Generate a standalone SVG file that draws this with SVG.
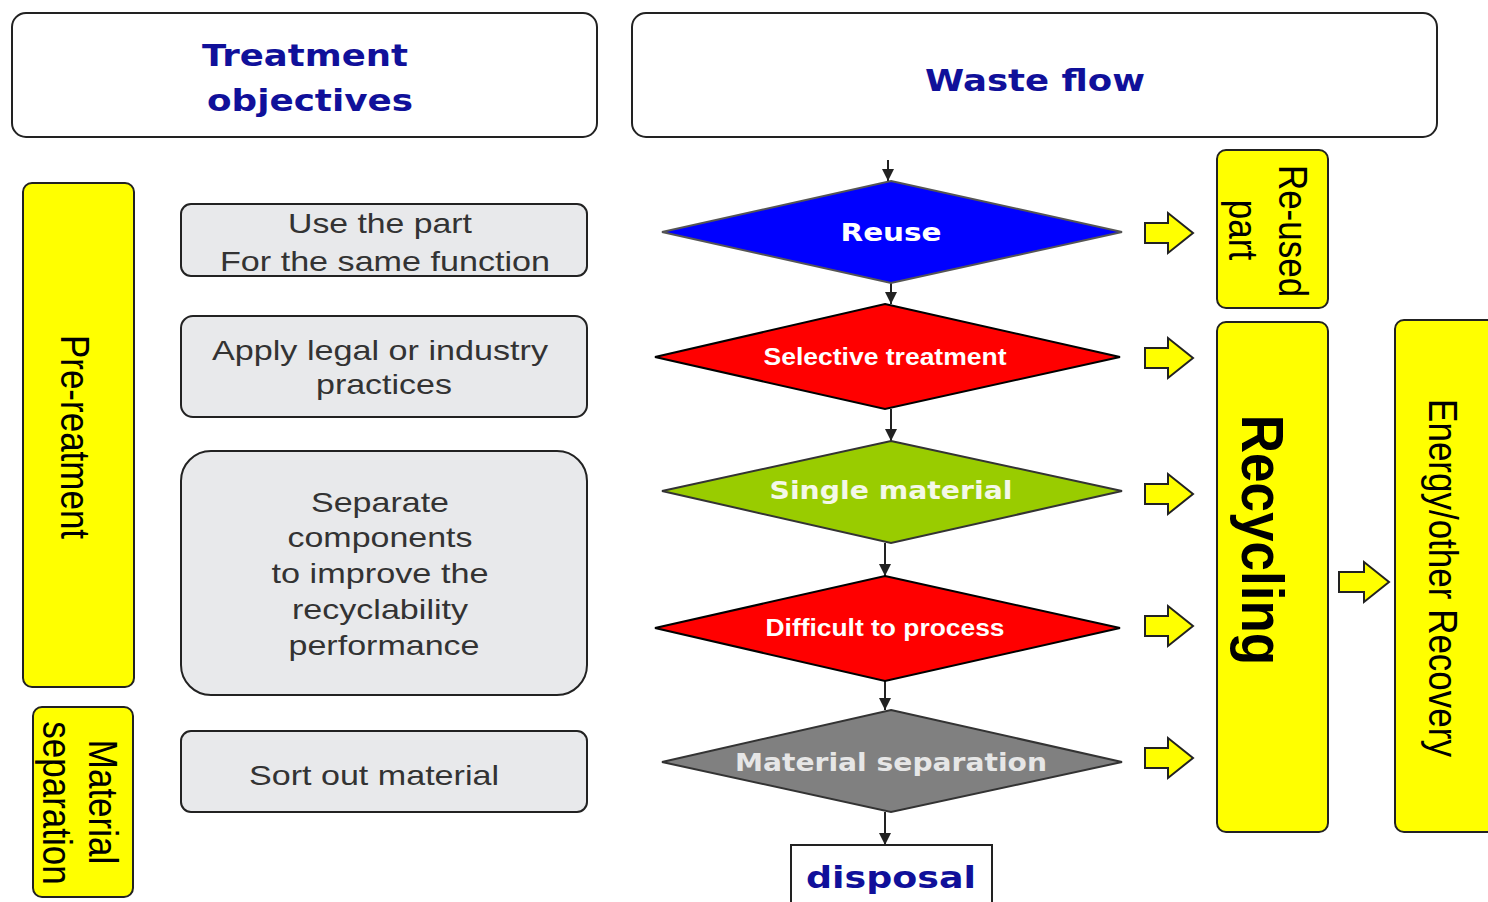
<svg xmlns="http://www.w3.org/2000/svg" width="1488" height="902" viewBox="0 0 1488 902">
<defs>
<style>
.hdr{fill:#fff;stroke:#222;stroke-width:2}
.hdrt{font-family:"DejaVu Sans",Verdana,sans-serif;font-weight:bold;fill:#10109a;text-anchor:middle}
.yel{fill:#ffff00;stroke:#222;stroke-width:2}
.gry{fill:#e8e9eb;stroke:#222;stroke-width:2}
.gt{font-family:"Liberation Sans",Arial,sans-serif;font-size:28px;fill:#333;text-anchor:middle}
.rt{font-family:"Liberation Sans",Arial,sans-serif;font-size:35px;fill:#000;text-anchor:middle;dominant-baseline:central}
.big{font-size:53px;font-weight:bold}
.dt{font-family:"DejaVu Sans",Verdana,sans-serif;font-weight:bold;font-size:25px;fill:#fff;text-anchor:middle}
.dta{font-family:"Liberation Sans",Arial,sans-serif;font-weight:bold;font-size:23px;fill:#fff;text-anchor:middle}
.conn{stroke:#222;stroke-width:2;fill:none;marker-end:url(#ah)}
.barrow{fill:#ffff00;stroke:#222;stroke-width:2;stroke-linejoin:miter}
</style>
<marker id="ah" viewBox="0 0 10 10" refX="10" refY="5" markerWidth="6" markerHeight="6" orient="auto" markerUnits="strokeWidth">
<path d="M0,0 L10,5 L0,10 z" fill="#222"/>
</marker>
</defs>
<rect width="1488" height="902" fill="#fff"/>

<g id="hdr-treatment">
<rect class="hdr" x="12" y="13" width="585" height="124" rx="14"/>
<text class="hdrt" x="305" y="66" font-size="31" textLength="206" lengthAdjust="spacingAndGlyphs">Treatment</text>
<text class="hdrt" x="310" y="111" font-size="31" textLength="206" lengthAdjust="spacingAndGlyphs">objectives</text>
</g>
<g id="hdr-waste">
<rect class="hdr" x="632" y="13" width="805" height="124" rx="14"/>
<text class="hdrt" x="1035" y="91" font-size="31" textLength="220" lengthAdjust="spacingAndGlyphs">Waste flow</text>
</g>

<g id="pre-treatment">
<rect class="yel" x="23" y="183" width="111" height="504" rx="9"/>
<text class="rt" transform="translate(75,437) scale(1.15,1) rotate(90)">Pre-reatment</text>
</g>
<g id="material-separation-label">
<rect class="yel" x="33" y="707" width="100" height="190" rx="9"/>
<text class="rt" transform="translate(103,802) scale(1.15,1) rotate(90)">Material</text>
<text class="rt" transform="translate(57,803) scale(1.15,1) rotate(90)">separation</text>
</g>

<g id="obj-use">
<rect class="gry" x="181" y="204" width="406" height="72" rx="10"/>
<text class="gt" x="380" y="233" textLength="184" lengthAdjust="spacingAndGlyphs">Use the part</text>
<text class="gt" x="385" y="271" textLength="330" lengthAdjust="spacingAndGlyphs">For the same function</text>
</g>
<g id="obj-apply">
<rect class="gry" x="181" y="316" width="406" height="101" rx="12"/>
<text class="gt" x="380" y="360" textLength="336" lengthAdjust="spacingAndGlyphs">Apply legal or industry</text>
<text class="gt" x="384" y="394" textLength="136" lengthAdjust="spacingAndGlyphs">practices</text>
</g>
<g id="obj-separate">
<rect class="gry" x="181" y="451" width="406" height="244" rx="30"/>
<text class="gt" x="380" y="512" textLength="138" lengthAdjust="spacingAndGlyphs">Separate</text>
<text class="gt" x="380" y="547" textLength="185" lengthAdjust="spacingAndGlyphs">components</text>
<text class="gt" x="380" y="583" textLength="217" lengthAdjust="spacingAndGlyphs">to improve the</text>
<text class="gt" x="380" y="619" textLength="176" lengthAdjust="spacingAndGlyphs">recyclability</text>
<text class="gt" x="384" y="655" textLength="191" lengthAdjust="spacingAndGlyphs">performance</text>
</g>
<g id="obj-sort">
<rect class="gry" x="181" y="731" width="406" height="81" rx="10"/>
<text class="gt" x="374" y="785" textLength="250" lengthAdjust="spacingAndGlyphs">Sort out material</text>
</g>

<g id="connectors">
<line class="conn" x1="888" y1="160" x2="888" y2="181"/>
<line class="conn" x1="891" y1="283" x2="891" y2="304"/>
<line class="conn" x1="891" y1="409" x2="891" y2="441"/>
<line class="conn" x1="885" y1="543" x2="885" y2="576"/>
<line class="conn" x1="885" y1="681" x2="885" y2="710"/>
<line class="conn" x1="885" y1="812" x2="885" y2="845"/>
</g>

<g id="d-reuse">
<polygon points="891,181 1122,232 891,283 662,232" fill="#0000ff" stroke="#555" stroke-width="2"/>
<text class="dt" x="891" y="241" textLength="101" lengthAdjust="spacingAndGlyphs">Reuse</text>
</g>
<g id="d-selective">
<polygon points="885,304 1120,357 885,409 655,357" fill="#ff0000" stroke="#000" stroke-width="2"/>
<text class="dta" x="885" y="365" textLength="243" lengthAdjust="spacingAndGlyphs">Selective treatment</text>
</g>
<g id="d-single">
<polygon points="891,441 1122,491 891,543 662,491" fill="#99cc00" stroke="#333" stroke-width="2"/>
<text class="dt" x="891" y="499" style="fill:#f4f8e8" textLength="243" lengthAdjust="spacingAndGlyphs">Single material</text>
</g>
<g id="d-difficult">
<polygon points="885,576 1120,628 885,681 655,628" fill="#ff0000" stroke="#000" stroke-width="2"/>
<text class="dta" x="885" y="636" textLength="239" lengthAdjust="spacingAndGlyphs">Difficult to process</text>
</g>
<g id="d-matsep">
<polygon points="891,710 1122,762 891,812 662,762" fill="#808080" stroke="#333" stroke-width="2"/>
<text class="dt" x="891" y="771" style="fill:#e6e6e6" textLength="312" lengthAdjust="spacingAndGlyphs">Material separation</text>
</g>

<g id="disposal">
<rect x="791" y="845" width="201" height="70" fill="#fff" stroke="#222" stroke-width="2"/>
<text class="hdrt" x="891" y="888" font-size="31" textLength="170" lengthAdjust="spacingAndGlyphs">disposal</text>
</g>

<g id="block-arrows">
<path class="barrow" d="M1145 223 L1168 223 L1168 213 L1193 233 L1168 253 L1168 243 L1145 243 Z"/>
<path class="barrow" d="M1145 348 L1168 348 L1168 338 L1193 358 L1168 378 L1168 368 L1145 368 Z"/>
<path class="barrow" d="M1145 484 L1168 484 L1168 474 L1193 494 L1168 514 L1168 504 L1145 504 Z"/>
<path class="barrow" d="M1145 616 L1168 616 L1168 606 L1193 626 L1168 646 L1168 636 L1145 636 Z"/>
<path class="barrow" d="M1145 748 L1168 748 L1168 738 L1193 758 L1168 778 L1168 768 L1145 768 Z"/>
<path class="barrow" d="M1339 572 L1364 572 L1364 562 L1389 582 L1364 602 L1364 592 L1339 592 Z"/>
</g>

<g id="reused-part">
<rect class="yel" x="1217" y="150" width="111" height="158" rx="9"/>
<text class="rt" transform="translate(1293,231) scale(1.15,1) rotate(90)">Re-used</text>
<text class="rt" transform="translate(1243,230) scale(1.15,1) rotate(90)">part</text>
</g>
<g id="recycling">
<rect class="yel" x="1217" y="322" width="111" height="510" rx="9"/>
<text class="rt big" transform="translate(1262,540) scale(1.1,1) rotate(90)">Recycling</text>
</g>
<g id="energy-recovery">
<rect class="yel" x="1395" y="320" width="110" height="512" rx="9"/>
<text class="rt" transform="translate(1443,578) scale(1.15,1) rotate(90)">Energy/other Recovery</text>
</g>
</svg>
